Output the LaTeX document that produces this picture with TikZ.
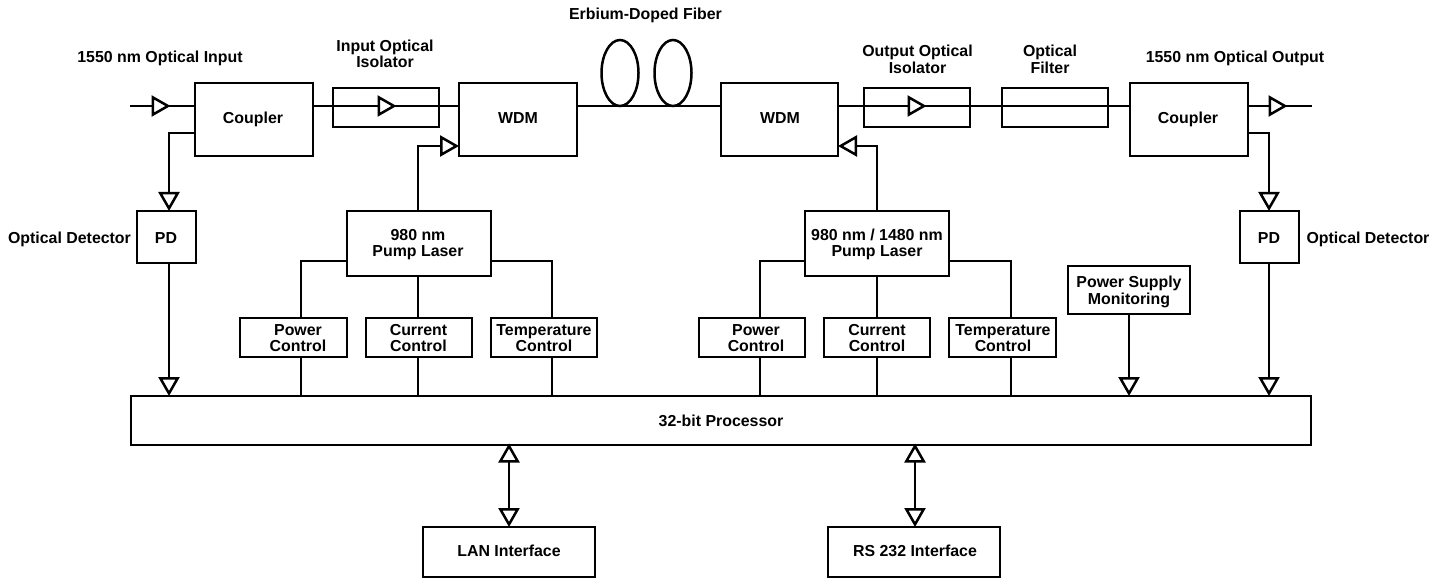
\documentclass[tikz,border=0pt]{standalone}
\usepackage{fontspec}
\setmainfont{Liberation Sans}
\usetikzlibrary{arrows.meta,shapes.geometric}
\lineskiplimit=-30bp
\newcommand\capstrut{\rule[-4bp]{0pt}{19.5bp}}
\newcommand\bxn[5]{\node[boxn,minimum width={(#4-#2)*1bp},minimum height={(#5-#3)*1bp}] (#1) at ({(#2+#4)/2},{(#3+#5)/2}) {};}
\tikzset{
  every path/.style={line width=2.5bp,line join=miter},
  boxn/.style={draw,black,fill=white,rectangle,inner sep=0pt,outer sep=0pt},
  loop/.style={draw,black,ellipse,inner sep=0pt,outer sep=0pt,minimum width=37bp,minimum height=66bp},
  lbl/.style={inner sep=0pt,outer sep=0pt,align=center,font=\fontsize{15.9bp}{16.4bp}\selectfont\bfseries},
  wire/.style={draw,black},
  tip/.style={draw,black,-{Triangle[open,length=19bp,width=21bp,line width=2.5bp]}},
  both/.style={draw,black,{Triangle[open,length=19bp,width=21bp,line width=2.5bp]}-{Triangle[open,length=19bp,width=21bp,line width=2.5bp]}}
}
\begin{document}
\begin{tikzpicture}[x=1bp,y=-1bp]
\useasboundingbox (0,0) rectangle (1447,578);
\fill[white] (0,0) rectangle (1447,578);
% reference levels
\coordinate (main) at (0,106);
\coordinate (tap) at (0,133);
\coordinate (pumpin) at (0,146);
\coordinate (side) at (0,261);
\coordinate (in0) at (130,106);
\coordinate (in1) at (170.5,106);
\coordinate (iso1t) at (396.5,106);
\coordinate (iso2t) at (926.5,106);
\coordinate (out1) at (1287.5,106);
\coordinate (out2) at (1312,106);
\coordinate (x1) at (169,0);
\coordinate (x2) at (418,0);
\coordinate (x3) at (301,0);
\coordinate (x4) at (552,0);
\coordinate (x5) at (760,0);
\coordinate (x6) at (877,0);
\coordinate (x7) at (1011,0);
\coordinate (x8) at (1129,0);
\coordinate (x9) at (1269,0);
\coordinate (x10) at (509,0);
\coordinate (x11) at (915,0);
% boxes
\bxn{coupA}{195}{83}{313}{156}
\bxn{wdmA}{459}{83}{577}{156}
\bxn{isoA}{333}{88}{439}{127}
\bxn{wdmB}{721}{83}{838}{156}
\bxn{isoB}{864}{88}{970}{127}
\bxn{filt}{1002}{88}{1108}{127}
\bxn{coupB}{1130}{83}{1248}{156}
\bxn{pdA}{137}{211}{196}{263}
\bxn{pdB}{1240}{211}{1299}{263}
\bxn{pumpA}{347}{211}{491}{276}
\bxn{pumpB}{805}{211}{949}{276}
\bxn{pwrA}{240}{318}{347}{357}
\bxn{curA}{366}{318}{472}{357}
\bxn{tmpA}{491}{318}{597}{357}
\bxn{pwrB}{699}{318}{805}{357}
\bxn{curB}{824}{318}{930}{357}
\bxn{tmpB}{949}{318}{1056}{357}
\bxn{psm}{1068}{266}{1190}{314}
\bxn{proc}{131}{396}{1311}{445}
\bxn{lan}{423}{527}{595}{577}
\bxn{rs}{828}{527}{1000}{577}
\node[loop] (loopA) at (620,73) {};
\node[loop] (loopB) at (673,73) {};
% connectors: fibre path
\draw[tip] (in0) -- (in1);
\draw[wire] ([xshift=-3bp]in1) -- (coupA.west |- main);
\draw[wire] (coupA.east |- main) -- (isoA.west |- main);
\draw[tip] (isoA.west |- main) -- (iso1t);
\draw[wire] ([xshift=-3bp]iso1t) -- (wdmA.west |- main);
\draw[wire] (wdmA.east |- main) -- (wdmB.west |- main);
\draw[wire] (wdmB.east |- main) -- (isoB.west |- main);
\draw[tip] (isoB.west |- main) -- (iso2t);
\draw[wire] ([xshift=-3bp]iso2t) -- (filt.west |- main);
\draw[wire] (filt.west |- main) -- (coupB.west |- main);
\draw[tip] (coupB.east |- main) -- (out1);
\draw[wire] ([xshift=-3bp]out1) -- (out2);
% taps
\draw[tip] (coupA.west |- tap) -| (x1 |- pdA.north);
\draw[tip] (coupB.east |- tap) -| (x9 |- pdB.north);
\draw[tip] (x1 |- pdA.south) -- (x1 |- proc.north);
\draw[tip] (x9 |- pdB.south) -- (x9 |- proc.north);
\draw[tip] (x8 |- psm.south) -- (x8 |- proc.north);
% pumps
\draw[tip] (x2 |- pumpA.north) |- (wdmA.west |- pumpin);
\draw[tip] (x6 |- pumpB.north) |- (wdmB.east |- pumpin);
\draw[wire] (pumpA.west |- side) -| (x3 |- pwrA.north);
\draw[wire] (pumpA.east |- side) -| (x4 |- tmpA.north);
\draw[wire] (x2 |- pumpA.south) -- (x2 |- curA.north);
\draw[wire] (pumpB.west |- side) -| (x5 |- pwrB.north);
\draw[wire] (pumpB.east |- side) -| (x7 |- tmpB.north);
\draw[wire] (x6 |- pumpB.south) -- (x6 |- curB.north);
\draw[wire] (x3 |- pwrA.south) -- (x3 |- proc.north);
\draw[wire] (x2 |- curA.south) -- (x2 |- proc.north);
\draw[wire] (x4 |- tmpA.south) -- (x4 |- proc.north);
\draw[wire] (x5 |- pwrB.south) -- (x5 |- proc.north);
\draw[wire] (x6 |- curB.south) -- (x6 |- proc.north);
\draw[wire] (x7 |- tmpB.south) -- (x7 |- proc.north);
\draw[both] ([yshift=1.5bp]x10 |- proc.south) -- (x10 |- lan.north);
\draw[both] ([yshift=1.5bp]x11 |- proc.south) -- (x11 |- rs.north);
% labels
\node[lbl] (tInput) at (160,56.5) {\capstrut 1550 nm Optical Input};
\node[lbl] (tIsoA) at (385,54) {\capstrut Input Optical\\\capstrut Isolator};
\node[lbl] (tEdf) at (645.5,14) {\capstrut Erbium-Doped Fiber};
\node[lbl] (tIsoB) at (917.5,59.5) {\capstrut Output Optical\\[.6bp]\capstrut Isolator};
\node[lbl] (tFilt) at (1050,59.5) {\capstrut Optical\\[.6bp]\capstrut Filter};
\node[lbl] (tOutput) at (1235,56.5) {\capstrut 1550 nm Optical Output};
\node[lbl] (tCoupA) at (253,118) {\capstrut Coupler};
\node[lbl] (tWdmA) at (518,118) {\capstrut WDM};
\node[lbl] (tWdmB) at (780,118) {\capstrut WDM};
\node[lbl] (tCoupB) at (1188,118) {\capstrut Coupler};
\node[lbl] (tDetA) at (69.5,238) {\capstrut Optical Detector};
\node[lbl] (tDetB) at (1368,238) {\capstrut Optical Detector};
\node[lbl] (tPdA) at (166,238) {\capstrut PD};
\node[lbl] (tPdB) at (1269,238) {\capstrut PD};
\node[lbl] (tPumpA) at (418,242.5) {\capstrut 980 nm\\\capstrut Pump Laser};
\node[lbl] (tPumpB) at (877,242.5) {\capstrut 980 nm / 1480 nm\\\capstrut Pump Laser};
\node[lbl] (tPwrA) at (298,338) {\capstrut Power\\\capstrut Control};
\node[lbl] (tCurA) at (418.5,338) {\capstrut Current\\\capstrut Control};
\node[lbl] (tTmpA) at (544,338) {\capstrut Temperature\\\capstrut Control};
\node[lbl] (tPwrB) at (756,338) {\capstrut Power\\\capstrut Control};
\node[lbl] (tCurB) at (877,338) {\capstrut Current\\\capstrut Control};
\node[lbl] (tTmpB) at (1003,338) {\capstrut Temperature\\\capstrut Control};
\node[lbl] (tPsm) at (1129,290.5) {\capstrut Power Supply\\[.6bp]\capstrut Monitoring};
\node[lbl] (tProc) at (721,421) {\capstrut 32-bit Processor};
\node[lbl] (tLan) at (509,551) {\capstrut LAN Interface};
\node[lbl] (tRs) at (915,551) {\capstrut RS 232 Interface};
\end{tikzpicture}
\end{document}
